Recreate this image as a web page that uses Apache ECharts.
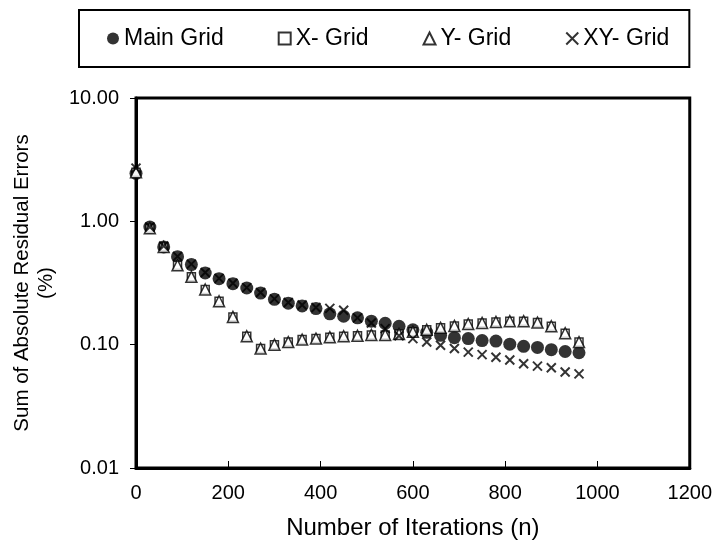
<!DOCTYPE html>
<html><head><meta charset="utf-8">
<script src="https://cdn.jsdelivr.net/npm/echarts@6/dist/echarts.min.js"></script>
<style>html,body{margin:0;padding:0;background:#fff}#c{width:715px;height:549px}</style>
</head><body><div id="c"></div>
<script>
var iterations = [0,30,60,90,120,150,180,210,240,270,300,330,360,390,420,450,480,510,540,570,600,630,660,690,720,750,780,810,840,870,900,930,960];
var mainGrid = [2.45,0.90,0.62,0.517,0.446,0.381,0.343,0.312,0.288,0.262,0.233,0.217,0.206,0.196,0.178,0.170,0.165,0.155,0.149,0.141,0.132,0.126,0.119,0.114,0.112,0.108,0.107,0.101,0.097,0.095,0.091,0.088,0.086];
var xGrid = [2.5,0.88,0.62,0.44,0.355,0.28,0.225,0.168,0.117,0.093,0.100,0.105,0.110,0.112,0.115,0.117,0.118,0.120,0.120,0.122,0.127,0.132,0.137,0.142,0.147,0.150,0.153,0.155,0.155,0.151,0.141,0.124,0.105];
var yGrid = [2.5,0.88,0.62,0.44,0.355,0.28,0.225,0.168,0.117,0.093,0.100,0.105,0.110,0.112,0.115,0.117,0.118,0.120,0.120,0.122,0.127,0.132,0.137,0.142,0.147,0.150,0.153,0.155,0.155,0.151,0.141,0.124,0.105];
var xyGrid = [2.7,0.9,0.63,0.52,0.45,0.385,0.345,0.315,0.29,0.265,0.235,0.22,0.21,0.2,0.197,0.19,0.165,0.15,0.135,0.118,0.112,0.105,0.099,0.093,0.087,0.083,0.079,0.075,0.070,0.067,0.065,0.060,0.058];
var seriesNames = ['Main Grid','X- Grid','Y- Grid','XY- Grid'];
var xTicks = {min:0, max:1200, interval:200};
var yTicks = {min:0.01, max:10};

function pairs(v){ return iterations.map(function(n,i){ return [n, v[i]]; }); }
var crossPath = 'path://M0,0L10,10M10,0L0,10';
var FONT = 'Liberation Sans';
var chart = echarts.init(document.getElementById('c'));
chart.setOption({
  backgroundColor:'#fff',
  animation:false,
  textStyle:{fontFamily:FONT,color:'#000'},
  legend:{
    left:79, top:10, orient:'horizontal',
    padding:[17,20,17,28],
    borderColor:'#000', borderWidth:2,
    itemGap:54, itemWidth:12, itemHeight:12,
    textStyle:{fontFamily:FONT,fontSize:23,color:'#000'},
    data:[
      {name:seriesNames[0], icon:'circle'},
      {name:seriesNames[1], icon:'rect'},
      {name:seriesNames[2], icon:'triangle'},
      {name:seriesNames[3], icon:crossPath}
    ]
  },
  grid:{left:136, top:98, right:23, bottom:81, show:true, borderColor:'#000', borderWidth:3, backgroundColor:'#fff'},
  xAxis:{
    type:'value', min:xTicks.min, max:xTicks.max, interval:xTicks.interval,
    name:'Number of Iterations (n)', nameLocation:'middle', nameGap:48,
    nameTextStyle:{fontFamily:FONT,fontSize:24,color:'#000'},
    axisLine:{show:true,onZero:false,lineStyle:{color:'#000',width:3}},
    axisTick:{show:true,inside:true,length:7,lineStyle:{color:'#000',width:1}},
    axisLabel:{fontFamily:FONT,fontSize:20,color:'#000',margin:15,formatter:function(v){return String(v);}},
    splitLine:{show:false}
  },
  yAxis:{
    type:'log', logBase:10, min:yTicks.min, max:yTicks.max,
    name:'Sum of Absolute Residual Errors\n(%)', nameLocation:'middle', nameGap:78, nameRotate:90,
    nameTextStyle:{fontFamily:FONT,fontSize:20.5,color:'#000',lineHeight:24},
    axisLine:{show:true,lineStyle:{color:'#000',width:3}},
    axisTick:{show:true,inside:false,length:6,lineStyle:{color:'#000',width:1}},
    minorTick:{show:false},
    axisLabel:{fontFamily:FONT,fontSize:20,color:'#000',margin:17,formatter:function(v){return v.toFixed(2);}},
    splitLine:{show:false}
  },
  series:[
    {name:seriesNames[0], type:'scatter', data:pairs(mainGrid), symbol:'circle', symbolSize:13,
      itemStyle:{color:'#000',borderColor:'#000',borderWidth:0}, z:2},
    {name:seriesNames[1], type:'scatter', data:pairs(xGrid), symbol:'rect', symbolSize:8,
      itemStyle:{color:'#fff',borderColor:'#000',borderWidth:1.5}, z:3},
    {name:seriesNames[2], type:'scatter', data:pairs(yGrid), symbol:'triangle', symbolSize:11,
      itemStyle:{color:'#fff',borderColor:'#000',borderWidth:1.5}, z:4},
    {name:seriesNames[3], type:'scatter', data:pairs(xyGrid), symbol:crossPath, symbolSize:9,
      itemStyle:{color:'rgba(0,0,0,0)',borderColor:'#000',borderWidth:2}, z:5}
  ]
});
</script></body></html>
